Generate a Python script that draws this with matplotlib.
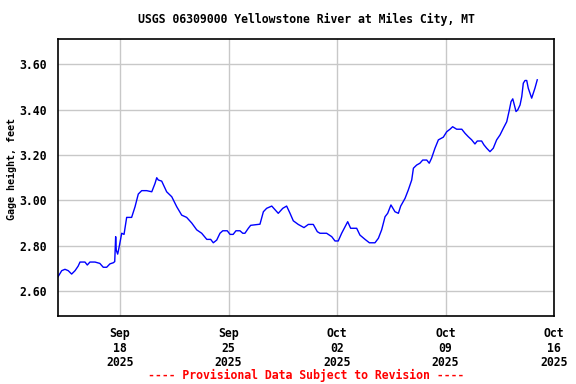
import datetime as dt
import matplotlib
matplotlib.use("Agg")
import matplotlib.pyplot as plt
import matplotlib.dates as mdates

# gage height readings: days since 2025-09-14 00:00, feet
days = [0.00, 0.24, 0.45, 0.66, 0.88, 1.10, 1.30, 1.42, 1.74, 1.89, 2.06, 2.39,
        2.70, 2.92, 3.14, 3.35, 3.57, 3.66, 3.72, 3.76, 3.85, 3.96, 4.11, 4.26,
        4.43, 4.75, 4.97, 5.18, 5.40, 5.72, 6.05, 6.26, 6.37, 6.47, 6.69, 7.01,
        7.34, 7.66, 7.98, 8.30, 8.63, 8.95, 9.27, 9.60, 9.85, 10.02, 10.24, 10.45,
        10.63, 10.92, 11.10, 11.30, 11.48, 11.74, 11.92, 12.06, 12.28, 12.43, 13.03,
        13.25, 13.46, 13.79, 14.21, 14.50, 14.75, 14.97, 15.18, 15.50, 15.87, 16.15,
        16.47, 16.73, 16.90, 17.33, 17.66, 17.87, 18.08, 18.30, 18.52, 18.69, 18.88,
        19.27, 19.48, 19.81, 20.09, 20.45, 20.67, 20.88, 21.10, 21.27, 21.48, 21.74,
        21.96, 22.11, 22.39, 22.60, 22.82, 22.93, 23.14, 23.35, 23.53, 23.79, 23.95,
        24.10, 24.32, 24.54, 24.86, 25.08, 25.29, 25.46, 25.72, 26.05, 26.26, 26.47,
        26.69, 26.90, 27.05, 27.33, 27.48, 27.66, 27.87, 28.08, 28.30, 28.52, 28.73,
        28.95, 29.12, 29.23, 29.34, 29.44, 29.55, 29.66, 29.81, 29.92, 30.02, 30.13,
        30.24, 30.34, 30.45, 30.56, 30.77, 30.92]
gage = [2.663, 2.690, 2.696, 2.690, 2.675, 2.690, 2.710, 2.728, 2.728, 2.715, 2.728, 2.728,
        2.722, 2.705, 2.705, 2.720, 2.725, 2.730, 2.840, 2.780, 2.763, 2.800, 2.855, 2.850,
        2.925, 2.925, 2.972, 3.028, 3.043, 3.043, 3.038, 3.075, 3.100, 3.090, 3.085, 3.038,
        3.016, 2.972, 2.935, 2.925, 2.900, 2.870, 2.855, 2.828, 2.828, 2.813, 2.825, 2.855,
        2.866, 2.866, 2.850, 2.850, 2.866, 2.866, 2.855, 2.855, 2.877, 2.890, 2.895,
        2.950, 2.965, 2.975, 2.943, 2.965, 2.975, 2.943, 2.910, 2.894, 2.880, 2.894,
        2.894, 2.862, 2.855, 2.855, 2.840, 2.821, 2.821, 2.855, 2.884, 2.906, 2.877,
        2.877, 2.847, 2.828, 2.813, 2.813, 2.833, 2.870, 2.928, 2.943, 2.980, 2.950,
        2.943, 2.975, 3.009, 3.046, 3.090, 3.142, 3.156, 3.164, 3.178, 3.178, 3.164,
        3.186, 3.230, 3.267, 3.279, 3.303, 3.314, 3.325, 3.314, 3.314, 3.296, 3.281,
        3.267, 3.249, 3.262, 3.262, 3.245, 3.230, 3.215, 3.230, 3.267, 3.289, 3.318,
        3.347, 3.399, 3.436, 3.448, 3.421, 3.392, 3.399, 3.421, 3.458, 3.517, 3.529,
        3.529, 3.495, 3.473, 3.451, 3.495, 3.532]

tick_dates = [dt.datetime(2025, 9, 18), dt.datetime(2025, 9, 25), dt.datetime(2025, 10, 2),
              dt.datetime(2025, 10, 9), dt.datetime(2025, 10, 16)]
y_ticks = [2.60, 2.80, 3.00, 3.20, 3.40, 3.60]

start = dt.datetime(2025, 9, 14)
times = [start + dt.timedelta(days=d) for d in days]

font = "DejaVu Sans Mono"

fig = plt.figure(figsize=(5.76, 3.84), dpi=100)
ax = fig.add_axes([58 / 576, 68 / 384, 496 / 576, 277 / 384])

ax.plot(times, gage, color="#0000ff", lw=1.0)

ax.set_xlim(start, dt.datetime(2025, 10, 16))
ax.set_ylim(2.49, 3.712)
ax.set_xticks(tick_dates)
ax.xaxis.set_major_formatter(mdates.DateFormatter("%b\n%d\n%Y"))
ax.set_yticks(y_ticks)
ax.set_yticklabels(["%.2f" % v for v in y_ticks])

ax.grid(True, color="#c8c8c8", lw=1)
ax.set_axisbelow(True)
ax.tick_params(length=0, pad=8, labelsize=8.3)
for lab in ax.get_xticklabels() + ax.get_yticklabels():
    lab.set_fontfamily(font)
    lab.set_fontweight("bold")
    lab.set_linespacing(1.15)
for s in ax.spines.values():
    s.set_linewidth(1.2)

ax.set_ylabel("Gage height, feet", fontfamily=font, fontweight="bold", fontsize=7.2)
ax.yaxis.set_label_coords(-0.083, 0.53)
fig.text(306 / 576, 1 - 19 / 384, "USGS 06309000 Yellowstone River at Miles City, MT",
         ha="center", va="center", fontfamily=font, fontweight="bold", fontsize=8.3)
fig.text(306 / 576, 1 - 375 / 384, "---- Provisional Data Subject to Revision ----",
         ha="center", va="center", fontfamily=font, fontweight="bold", fontsize=8.3, color="red")

fig.savefig("out.png", dpi=100)
